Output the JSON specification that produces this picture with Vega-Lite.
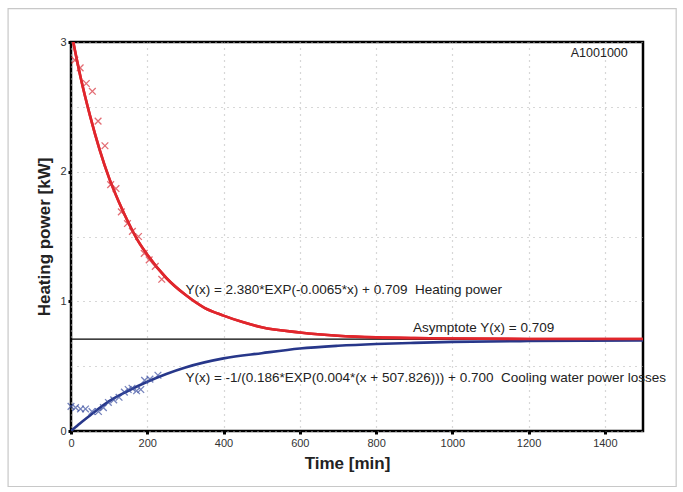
{
  "$schema": "https://vega.github.io/schema/vega-lite/v6.json",
  "width": 572,
  "height": 389,
  "autosize": {"type": "none"},
  "padding": {"left": 71, "top": 42, "right": 40, "bottom": 61},
  "background": "white",
  "config": {
    "view": {"stroke": "black", "strokeWidth": 2.5},
    "font": "Liberation Sans",
    "axis": {
      "domain": false,
      "grid": true,
      "labelFont": "Liberation Sans",
      "labelFontSize": 11,
      "labelColor": "#333333",
      "labelOverlap": false,
      "titleFont": "Liberation Sans",
      "titleFontSize": 17,
      "titleFontWeight": "bold",
      "titleColor": "#222222",
      "gridColor": "#b0b0b0",
      "gridDash": [1, 5],
      "gridWidth": 1.2,
      "tickColor": "black",
      "tickSize": 3,
      "tickWidth": 3
    }
  },
  "datasets": {
    "heatFit": [
      {"time": 0, "power": 3.09}, {"time": 10, "power": 2.94}, {"time": 25, "power": 2.73},
      {"time": 50, "power": 2.43}, {"time": 75, "power": 2.17}, {"time": 100, "power": 1.95},
      {"time": 125, "power": 1.77}, {"time": 150, "power": 1.61}, {"time": 175, "power": 1.47},
      {"time": 200, "power": 1.36}, {"time": 250, "power": 1.18}, {"time": 300, "power": 1.05},
      {"time": 350, "power": 0.95}, {"time": 400, "power": 0.89}, {"time": 450, "power": 0.84},
      {"time": 500, "power": 0.80}, {"time": 600, "power": 0.76}, {"time": 700, "power": 0.735},
      {"time": 800, "power": 0.722}, {"time": 900, "power": 0.716}, {"time": 1000, "power": 0.713},
      {"time": 1200, "power": 0.71}, {"time": 1500, "power": 0.709}
    ],
    "coolFit": [
      {"time": 0, "power": 0.0}, {"time": 25, "power": 0.062}, {"time": 50, "power": 0.12},
      {"time": 100, "power": 0.23}, {"time": 150, "power": 0.31}, {"time": 200, "power": 0.38},
      {"time": 250, "power": 0.44}, {"time": 300, "power": 0.49}, {"time": 400, "power": 0.56},
      {"time": 500, "power": 0.60}, {"time": 600, "power": 0.636}, {"time": 700, "power": 0.657},
      {"time": 800, "power": 0.671}, {"time": 900, "power": 0.68}, {"time": 1000, "power": 0.687},
      {"time": 1200, "power": 0.694}, {"time": 1500, "power": 0.698}
    ],
    "heatPts": [
      {"time": 10, "power": 2.86}, {"time": 24, "power": 2.80}, {"time": 40, "power": 2.68},
      {"time": 56, "power": 2.62}, {"time": 71, "power": 2.39}, {"time": 89, "power": 2.20},
      {"time": 104, "power": 1.90}, {"time": 118, "power": 1.87}, {"time": 132, "power": 1.69},
      {"time": 148, "power": 1.60}, {"time": 161, "power": 1.54}, {"time": 177, "power": 1.50},
      {"time": 192, "power": 1.37}, {"time": 205, "power": 1.32}, {"time": 221, "power": 1.27},
      {"time": 238, "power": 1.17}
    ],
    "coolPts": [
      {"time": 0, "power": 0.19}, {"time": 12, "power": 0.18}, {"time": 25, "power": 0.17},
      {"time": 38, "power": 0.17}, {"time": 55, "power": 0.15}, {"time": 72, "power": 0.15},
      {"time": 85, "power": 0.18}, {"time": 98, "power": 0.22}, {"time": 112, "power": 0.24},
      {"time": 126, "power": 0.26}, {"time": 140, "power": 0.30}, {"time": 150, "power": 0.32},
      {"time": 160, "power": 0.33}, {"time": 172, "power": 0.31}, {"time": 183, "power": 0.32},
      {"time": 193, "power": 0.39}, {"time": 207, "power": 0.40}, {"time": 228, "power": 0.43}
    ],
    "notes": [
      {"label": "Y(x) = 2.380*EXP(-0.0065*x) + 0.709\u00a0\u00a0Heating power", "time": 300, "power": 1.087},
      {"label": "Asymptote Y(x) = 0.709", "time": 897, "power": 0.795},
      {"label": "Y(x) = -1/(0.186*EXP(0.004*(x + 507.826))) + 0.700\u00a0\u00a0Cooling water power losses", "time": 300, "power": 0.41}
    ],
    "tag": [
      {"label": "A1001000", "time": 1460, "power": 2.915}
    ]
  },
  "layer": [
    {
      "data": {"name": "heatFit"},
      "mark": {"type": "line", "color": "#e0262c", "strokeWidth": 2.6, "interpolate": "monotone", "clip": true},
      "encoding": {
        "x": {"field": "time", "type": "quantitative", "scale": {"domain": [0, 1500], "nice": false}, "axis": {"title": "Time [min]", "titleX": 276, "values": [0,100,200,300,400,500,600,700,800,900,1000,1100,1200,1300,1400,1500], "labelOverlap": false, "labelSeparation": 0, "format": "d", "labelPadding": 3, "titlePadding": 7, "labelFlush": false}},
        "y": {"field": "power", "type": "quantitative", "scale": {"domain": [0, 3], "nice": false}, "axis": {"title": "Heating power [kW]", "values": [0,0.5,1,1.5,2,2.5,3], "labelOverlap": false, "labelExpr": "datum.value % 1 === 0 ? format(datum.value, 'd') : ''", "tickOpacity": {"condition": {"test": "datum.value % 1 === 0", "value": 1}, "value": 0}, "labelPadding": 2, "titlePadding": 6, "labelFlush": false}}
      }
    },
    {
      "data": {"values": [{}]},
      "mark": {"type": "rect", "filled": false, "stroke": "#c8c8c8", "strokeWidth": 1.2, "clip": false, "fill": null},
      "encoding": {
        "x": {"datum": -165, "type": "quantitative"},
        "x2": {"datum": 1587},
        "y": {"datum": 3.258, "type": "quantitative"},
        "y2": {"datum": -0.428}
      }
    },
    {
      "data": {"values": [{}]},
      "mark": {"type": "rule", "color": "black", "strokeWidth": 1.2},
      "encoding": {
        "y": {"datum": 0.709, "type": "quantitative"}
      }
    },
    {
      "data": {"name": "coolFit"},
      "mark": {"type": "line", "color": "#27378a", "strokeWidth": 2.6, "interpolate": "monotone", "clip": true},
      "encoding": {
        "x": {"field": "time", "type": "quantitative"},
        "y": {"field": "power", "type": "quantitative"}
      }
    },
    {
      "data": {"name": "heatFit"},
      "mark": {"type": "line", "color": "#e0262c", "strokeWidth": 2.6, "interpolate": "monotone", "clip": true},
      "encoding": {
        "x": {"field": "time", "type": "quantitative"},
        "y": {"field": "power", "type": "quantitative"}
      }
    },
    {
      "data": {"name": "heatPts"},
      "mark": {"type": "point", "shape": "M-1,-1L1,1M1,-1L-1,1", "filled": false, "color": "#d8303a", "size": 45, "strokeWidth": 1.3},
      "encoding": {
        "x": {"field": "time", "type": "quantitative"},
        "y": {"field": "power", "type": "quantitative"}
      }
    },
    {
      "data": {"name": "coolPts"},
      "mark": {"type": "point", "shape": "M-1,-1L1,1M1,-1L-1,1", "filled": false, "color": "#3a4ea0", "size": 45, "strokeWidth": 1.3},
      "encoding": {
        "x": {"field": "time", "type": "quantitative"},
        "y": {"field": "power", "type": "quantitative"}
      }
    },
    {
      "data": {"name": "notes"},
      "mark": {"type": "text", "fontSize": 13.5, "font": "Liberation Sans", "color": "#222222", "align": "left", "baseline": "middle", "clip": false},
      "encoding": {
        "x": {"field": "time", "type": "quantitative"},
        "y": {"field": "power", "type": "quantitative"},
        "text": {"field": "label"}
      }
    },
    {
      "data": {"name": "tag"},
      "mark": {"type": "text", "fontSize": 12.5, "font": "Liberation Sans", "color": "#222222", "align": "right", "baseline": "middle"},
      "encoding": {
        "x": {"field": "time", "type": "quantitative"},
        "y": {"field": "power", "type": "quantitative"},
        "text": {"field": "label"}
      }
    }
  ]
}
